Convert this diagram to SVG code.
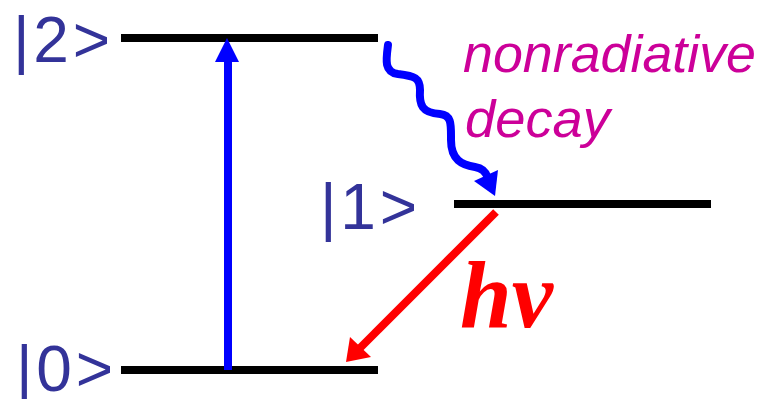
<svg xmlns="http://www.w3.org/2000/svg" width="767" height="399" viewBox="0 0 767 399">
<style>
.lvl{stroke:#000;stroke-width:8;fill:none}
.ket{font-family:"Liberation Sans",Arial,sans-serif;font-size:64px;fill:#333399}
.nr{font-family:"Liberation Sans",Arial,sans-serif;font-style:italic;font-size:51px;fill:#CC0099}
.hv{font-family:"Liberation Serif","Times New Roman",serif;font-style:italic;font-weight:bold;font-size:95px;fill:#FF0000}
</style>
<rect width="767" height="399" fill="#fff"/>
<g id="level2"><line class="lvl" x1="121" y1="38" x2="378" y2="38"/><text class="ket" x="13" y="62" textLength="97" lengthAdjust="spacing">|2&gt;</text></g>
<g id="level1"><line class="lvl" x1="454" y1="204" x2="711" y2="204"/><text class="ket" x="320" y="229" textLength="97" lengthAdjust="spacing">|1&gt;</text></g>
<g id="level0"><line class="lvl" x1="121" y1="370" x2="378" y2="370"/><text class="ket" x="16" y="391" textLength="97" lengthAdjust="spacing">|0&gt;</text></g>
<g id="labels">
<text class="nr" x="463" y="72" textLength="293" lengthAdjust="spacingAndGlyphs">nonradiative</text>
<text class="nr" x="465" y="137" textLength="145" lengthAdjust="spacingAndGlyphs">decay</text>
<text class="hv" x="460" y="327" textLength="93" lengthAdjust="spacingAndGlyphs">hν</text>
</g>
<g id="connectors">
<line x1="228" y1="370" x2="228" y2="58" stroke="#0000FF" stroke-width="8"/>
<polygon points="227,38 215,62 239,62" fill="#0000FF"/>
<path d="M388,45 C386,60 384,72 398,74 C415,76 420,78 420,90 C419,105 422,113 440,114 C452,115 451,125 451,140 C451,160 462,165 475,167 C482,168 486,172 488,178" fill="none" stroke="#0000FF" stroke-width="8" stroke-linecap="round"/>
<polygon points="495,196 474,181 498,170" fill="#0000FF"/>
<line x1="496" y1="212" x2="360" y2="348" stroke="#FF0000" stroke-width="8"/>
<polygon points="346,362 350,337 371,357" fill="#FF0000"/>
</g>
</svg>
